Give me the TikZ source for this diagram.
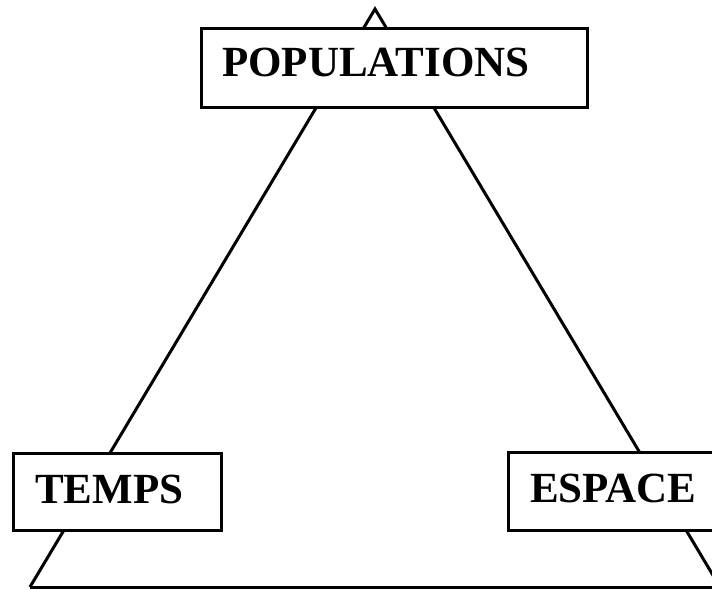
\documentclass[tikz,border=0pt]{standalone}
\usepackage{fontspec}
\setmainfont{Liberation Serif}
\begin{document}
\begin{tikzpicture}[x=1pt,y=-1pt,
  edge/.style={line width=3pt, line join=miter},
  box/.style={draw, line width=3pt, fill=white, inner sep=0pt},
  lab/.style={inner sep=0pt, font=\fontsize{43}{48}\selectfont\bfseries}]
\useasboundingbox (0,0) rectangle (712,589);
\clip (0,0) rectangle (712,589);
\coordinate (apex) at (375,9);
\coordinate (bl) at (30,587);
\coordinate (br) at (720,587);
\draw[edge] (bl) -- (apex) -- (br);
\draw[edge] (bl) -- (br);
\node[box, minimum width=386pt, minimum height=79pt] (pop) at (394,67.5) {};
\node[lab, anchor=base west] (popt) at (222,76) {POPULATIONS};
\node[box, minimum width=208pt, minimum height=77pt] (temps) at (117,491.5) {};
\node[lab, anchor=base west] (tempst) at (35,503) {TEMPS};
\node[box, minimum width=208pt, minimum height=78pt] (esp) at (612,491) {};
\node[lab, anchor=base west] (espt) at (530,502) {ESPACE};
\end{tikzpicture}
\end{document}
